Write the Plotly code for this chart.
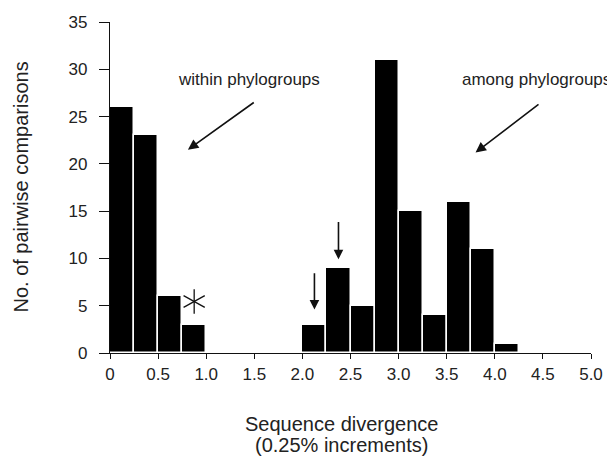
import plotly.graph_objects as go

bin_starts = [0.0, 0.25, 0.5, 0.75, 1.0, 1.25, 1.5, 1.75, 2.0, 2.25, 2.5, 2.75, 3.0, 3.25, 3.5, 3.75, 4.0, 4.25, 4.5, 4.75]
counts = [26, 23, 6, 3, 0, 0, 0, 0, 3, 9, 5, 31, 15, 4, 16, 11, 1, 0, 0, 0]
bin_width = 0.25
x_ticks = [0, 0.5, 1.0, 1.5, 2.0, 2.5, 3.0, 3.5, 4.0, 4.5, 5.0]
x_tick_labels = ["0", "0.5", "1.0", "1.5", "2.0", "2.5", "3.0", "3.5", "4.0", "4.5", "5.0"]
y_ticks = [0, 5, 10, 15, 20, 25, 30, 35]

centers = [s + bin_width / 2 for s in bin_starts]

FONT = "Liberation Sans, Arial, sans-serif"
TXT = "#222"

fig = go.Figure()
fig.add_trace(go.Bar(
    x=centers, y=counts, width=bin_width,
    marker=dict(color="black", line=dict(color="white", width=1.5)),
    showlegend=False, hoverinfo="skip",
))

arrow = dict(xref="x", yref="y", axref="x", ayref="y", showarrow=True, arrowhead=2,
             arrowwidth=1.6, arrowcolor="#111", text="")
annotations = [
    dict(x=1.445, y=28.9, xref="x", yref="y", text="within phylogroups", showarrow=False,
         font=dict(size=17, color=TXT, family=FONT)),
    dict(x=4.43, y=28.9, xref="x", yref="y", text="among phylogroups", showarrow=False,
         font=dict(size=17, color=TXT, family=FONT)),
    dict(arrow, x=0.81, y=21.5, ax=1.51, ay=26.6, arrowsize=1.3),
    dict(arrow, x=3.80, y=21.2, ax=4.47, ay=26.4, arrowsize=1.3),
    dict(arrow, x=2.125, y=4.6, ax=2.125, ay=8.6, arrowsize=1.2),
    dict(arrow, x=2.375, y=9.9, ax=2.375, ay=14.0, arrowsize=1.2),
    dict(x=0.482, y=-0.213, xref="paper", yref="paper", yanchor="middle",
         text="Sequence divergence", showarrow=False,
         font=dict(size=20, color=TXT, family=FONT)),
    dict(x=0.482, y=-0.278, xref="paper", yref="paper", yanchor="middle",
         text="(0.25% increments)", showarrow=False,
         font=dict(size=20, color=TXT, family=FONT)),
    dict(x=-0.187, y=0.5, xref="paper", yref="paper", xanchor="center", yanchor="middle",
         textangle=-90, text="No. of pairwise comparisons", showarrow=False,
         font=dict(size=20, color=TXT, family=FONT)),
]

# asterisk drawn as three strokes
cx, cy = 0.875, 5.45
lw = dict(color="#111", width=1.3)
shapes = [
    dict(type="line", xref="x", yref="y", x0=cx, x1=cx, y0=cy - 1.3, y1=cy + 1.3, line=lw),
    dict(type="line", xref="x", yref="y", x0=cx - 0.11, x1=cx + 0.11, y0=cy - 0.62, y1=cy + 0.62, line=lw),
    dict(type="line", xref="x", yref="y", x0=cx - 0.11, x1=cx + 0.11, y0=cy + 0.62, y1=cy - 0.62, line=lw),
]

fig.update_layout(
    width=607, height=456,
    margin=dict(l=102, r=24, t=5, b=111),
    paper_bgcolor="white", plot_bgcolor="white",
    font=dict(family=FONT, size=17, color=TXT),
    bargap=0,
    annotations=annotations,
    shapes=shapes,
    xaxis=dict(range=[0, 5.0], tickvals=x_ticks, ticktext=x_tick_labels,
               showgrid=False, zeroline=False, showline=True, linecolor="#111", linewidth=1.3,
               ticks="outside", ticklen=5, tickcolor="#111", tickwidth=1.3,
               ticklabeloverflow="allow", tickfont=dict(size=17)),
    yaxis=dict(range=[0, 35], tickvals=y_ticks, showgrid=False, zeroline=False,
               showline=True, linecolor="#111", linewidth=1.3,
               ticks="outside", ticklen=10, tickcolor="#111", tickwidth=1.3,
               ticklabelstandoff=8, ticklabeloverflow="allow", tickfont=dict(size=17)),
)

fig.write_html("out.html")
